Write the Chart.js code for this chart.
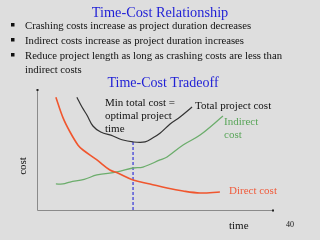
<!DOCTYPE html>
<html>
<head>
<meta charset="utf-8">
<script src="https://cdn.jsdelivr.net/npm/chart.js@4"></script>
<style>
  html, body { margin: 0; padding: 0; background: #dedede; }
  #wrap { width: 320px; height: 240px; position: relative; }
</style>
</head>
<body>
<div id="wrap"><canvas id="tradeoff"></canvas></div>
<script>
// time / cost (0-100 scale both ways)
const directTime   = [8, 11, 14, 17.4, 19.5, 25.4, 30.9, 34, 40.7, 47.9, 55.1, 61.9, 69.1, 77.5];
const directCost   = [94, 77, 65, 54, 50, 41.7, 33.3, 31, 25, 21.7, 18.3, 15.8, 14.2, 15];
const indirectTime = [8, 11, 14, 20, 25.4, 33.9, 40.7, 44.9, 52.1, 55.1, 61.9, 69.1, 78.8];
const indirectCost = [21.7, 21.7, 23.3, 25.5, 29.2, 31.7, 35, 35.8, 41.7, 44.2, 54.2, 62.5, 78.3];
const totalTime    = [16.9, 19, 21.2, 23.7, 27, 32.2, 36, 40.7, 45.8, 49, 52.1, 56.4, 60.6, 65.7];
const totalCost    = [94, 86, 79, 70, 65, 61.7, 58.5, 56.7, 56.7, 60, 64, 71.7, 77.5, 85.8];
const optimalTime  = 40.7;
const optimalCost  = 56.7;

const bullets = [
    'Crashing costs increase as project duration decreases',
    'Indirect costs increase as project duration increases',
    'Reduce project length as long as crashing costs are less than',
    'indirect costs'
];

function pts(xs, ys) {
    return xs.map((x, i) => ({ x: x, y: ys[i] }));
}

const serif = '"Liberation Serif", "DejaVu Serif", serif';

// slide texts + axis lines
const slideText = {
    id: 'slideText',
    beforeDatasetsDraw(chart) {
        const { ctx, chartArea } = chart;
        ctx.save();
        // axes
        ctx.strokeStyle = '#8a8a8a';
        ctx.lineWidth = 1;
        ctx.beginPath();
        ctx.moveTo(chartArea.left + 0.5, chartArea.top);
        ctx.lineTo(chartArea.left + 0.5, chartArea.bottom + 0.5);
        ctx.lineTo(chartArea.right, chartArea.bottom + 0.5);
        ctx.stroke();
        ctx.fillStyle = '#222';
        ctx.fillRect(chartArea.left - 0.5, chartArea.top - 1, 2, 2);
        ctx.fillRect(chartArea.right - 1, chartArea.bottom - 0.5, 2, 2);
        ctx.restore();
    },
    afterDraw(chart) {
        const ctx = chart.ctx;
        ctx.save();
        ctx.textBaseline = 'alphabetic';

        ctx.fillStyle = '#1f1fd6';
        ctx.textAlign = 'center';
        ctx.font = '14.3px ' + serif;
        ctx.fillText('Time-Cost Relationship', 160, 17);

        ctx.textAlign = 'left';
        ctx.font = '10.7px ' + serif;
        const rows = [29, 44, 59, 73];
        bullets.forEach((b, i) => {
            ctx.fillStyle = '#111';
            if (i < 3) ctx.fillRect(11, rows[i] - 6, 3.5, 3.5);
            ctx.fillText(b, 25, rows[i]);
        });

        ctx.fillStyle = '#1f1fd6';
        ctx.textAlign = 'center';
        ctx.font = '14px ' + serif;
        ctx.fillText('Time-Cost Tradeoff', 163, 87);

        ctx.textAlign = 'left';
        ctx.font = '11px ' + serif;
        ctx.fillStyle = '#111';
        ctx.fillText('Min total cost =', 105, 106);
        ctx.fillText('optimal project', 105, 119);
        ctx.fillText('time', 105, 132);
        ctx.fillText('Total project cost', 195, 109);

        ctx.fillStyle = '#5aa65a';
        ctx.fillText('Indirect', 224, 125);
        ctx.fillText('cost', 224, 138);

        ctx.fillStyle = '#f05a3a';
        ctx.fillText('Direct cost', 229, 194);

        ctx.fillStyle = '#111';
        ctx.fillText('time', 229, 229);
        ctx.font = '8px ' + serif;
        ctx.fillText('40', 286, 227);

        ctx.font = '11px ' + serif;
        ctx.translate(26, 166);
        ctx.rotate(-Math.PI / 2);
        ctx.textAlign = 'center';
        ctx.fillText('cost', 0, 0);
        ctx.restore();
    }
};

new Chart(document.getElementById('tradeoff'), {
    type: 'line',
    data: {
        datasets: [
            {
                label: 'Direct cost',
                data: pts(directTime, directCost),
                borderColor: '#f0562e',
                borderWidth: 1.6,
                tension: 0.35
            },
            {
                label: 'Indirect cost',
                data: pts(indirectTime, indirectCost),
                borderColor: '#6cad6c',
                borderWidth: 1.3,
                tension: 0.35
            },
            {
                label: 'Total project cost',
                data: pts(totalTime, totalCost),
                borderColor: '#333',
                borderWidth: 1.2,
                tension: 0.35
            },
            {
                label: 'Optimal',
                data: [{ x: optimalTime, y: 0 }, { x: optimalTime, y: optimalCost }],
                borderColor: '#3434d8',
                borderWidth: 1.2,
                borderDash: [3, 2]
            }
        ]
    },
    options: {
        responsive: true,
        maintainAspectRatio: false,
        animation: false,
        layout: { padding: { left: 37, right: 47, top: 90, bottom: 30 } },
        elements: { point: { radius: 0 } },
        plugins: {
            legend: { display: false },
            tooltip: { enabled: false }
        },
        scales: {
            x: { type: 'linear', min: 0, max: 100, display: false },
            y: { type: 'linear', min: 0, max: 100, display: false }
        }
    },
    plugins: [slideText]
});
</script>
</body>
</html>
